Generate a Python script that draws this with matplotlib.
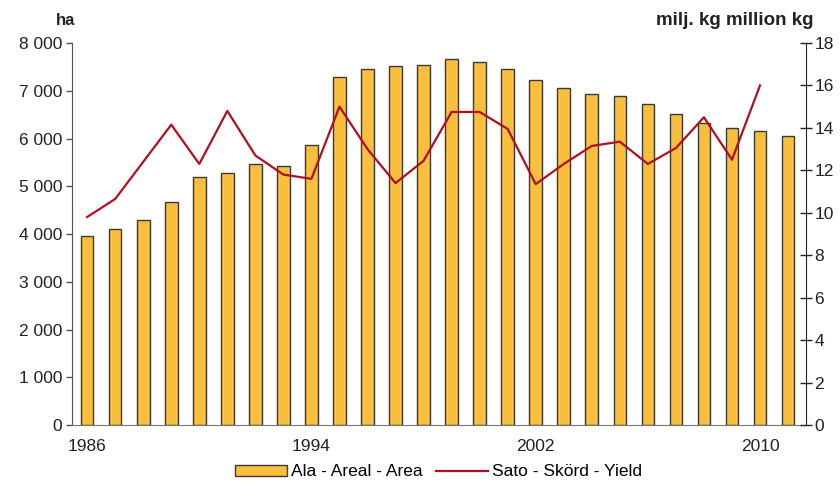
import matplotlib.pyplot as plt
import numpy as np

plt.rcParams['font.family'] = ['Liberation Sans', 'DejaVu Sans']

years = list(range(1986, 2012))
area = [3950, 4100, 4290, 4670, 5190, 5280, 5470, 5420, 5860, 7290,
        7455, 7520, 7540, 7665, 7600, 7455, 7225, 7060, 6930, 6890,
        6720, 6510, 6320, 6220, 6160, 6050]
yield_years = list(range(1986, 2011))
yield_mkg = [9.8, 10.65, 12.4, 14.15, 12.3, 14.8, 12.7, 11.8, 11.6, 15.0,
             13.0, 11.4, 12.45, 14.75, 14.75, 13.95, 11.35, 12.3, 13.15, 13.35,
             12.3, 13.05, 14.5, 12.5, 16.0]

fig = plt.figure(figsize=(8.4, 4.83), dpi=100)
ax = fig.add_axes([0.0857, 0.12, 0.8738, 0.791])
ax2 = ax.twinx()

bars = ax.bar(years, area, width=0.45, color='#F8BE3C', edgecolor='#3a3a3a',
              linewidth=1.0, label='Ala - Areal - Area', zorder=2)
line, = ax2.plot(yield_years, yield_mkg, color='#B01020', linewidth=1.6,
                 label='Sato - Skörd - Yield', zorder=3)

ax.set_xlim(1985.46, 2011.64)
ax.set_ylim(0, 8000)
ax.set_yticks(range(0, 8001, 1000))
ax.set_yticklabels(['0'] + ['%d 000' % (v // 1000) for v in range(1000, 8001, 1000)])
ax2.set_ylim(0, 18)
ax2.set_yticks(range(0, 19, 2))
ax.set_xticks([1986, 1994, 2002, 2010])

ax.spines['top'].set_visible(False)
ax2.spines['top'].set_visible(False)
ax2.spines['left'].set_visible(False)
ax.spines['right'].set_visible(False)
ax.spines['left'].set_color('#555555')
ax2.spines['right'].set_color('#222222')
ax.spines['bottom'].set_color('#777777')
ax2.spines['bottom'].set_visible(False)

ax.tick_params(axis='y', direction='out', length=4, width=1, colors='#555555',
               labelcolor='#222222', labelsize=12.5, pad=3)
ax2.tick_params(axis='y', direction='inout', length=8, width=1, colors='#222222',
                labelcolor='#222222', labelsize=12.5, pad=2)
ax.tick_params(axis='x', length=0, labelsize=12.5, labelcolor='#222222', pad=10)

fig.text(0.066, 0.958, 'ha', fontsize=12, fontweight='bold', color='#222222',
         va='center')
fig.text(0.968, 0.958, 'milj. kg million kg', fontsize=13.5, fontweight='bold',
         color='#222222', ha='right', va='center')

fig.legend([bars, line], ['Ala - Areal - Area', 'Sato - Skörd - Yield'],
           loc='lower center', bbox_to_anchor=(0.522, -0.025), ncol=2,
           frameon=False, fontsize=12.5, handlelength=3.0, handleheight=0.6,
           columnspacing=0.8, handletextpad=0.2)

fig.savefig('out.png', dpi=100)
